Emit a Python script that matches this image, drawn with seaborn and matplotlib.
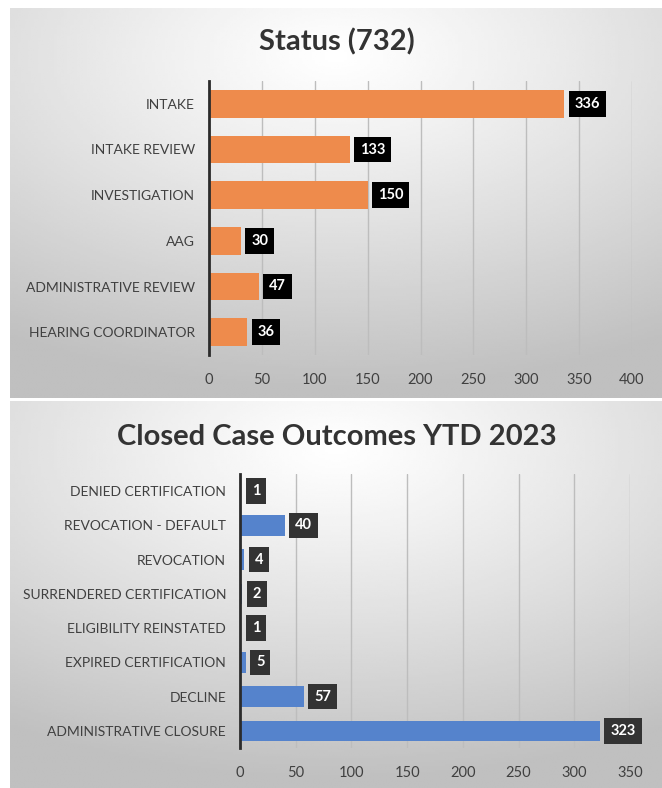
import numpy as np
import matplotlib
matplotlib.use('Agg')
import matplotlib.pyplot as plt
import seaborn as sns

sns.set_theme(style="white")
plt.rcParams['font.family'] = ['Lato', 'DejaVu Sans']

# Data
status_labels = ['INTAKE', 'INTAKE REVIEW', 'INVESTIGATION', 'AAG',
                 'ADMINISTRATIVE REVIEW', 'HEARING COORDINATOR']
status_counts = [336, 133, 150, 30, 47, 36]

outcome_labels = ['DENIED CERTIFICATION', 'REVOCATION - DEFAULT', 'REVOCATION',
                  'SURRENDERED CERTIFICATION', 'ELIGIBILITY REINSTATED',
                  'EXPIRED CERTIFICATION', 'DECLINE', 'ADMINISTRATIVE CLOSURE']
outcome_counts = [1, 40, 4, 2, 1, 5, 57, 323]

W, H = 662, 788
fig = plt.figure(figsize=(W / 100, H / 100), dpi=100)
fig.patch.set_facecolor('white')


def px_box(x0, y0, x1, y1):
    # pixel box (top-left origin) -> figure fraction rect
    return [x0 / W, 1 - y1 / H, (x1 - x0) / W, (y1 - y0) / H]


def gradient_bg(rect):
    bg = fig.add_axes(rect, zorder=0)
    yy, xx = np.mgrid[0:1:200j, 0:1:200j]
    r = np.sqrt(((xx - 0.5) * 1.0) ** 2 + ((yy - 0.12) * 1.1) ** 2)
    r = np.clip(r / 0.95, 0, 1)
    shade = 1.0 - 0.25 * r ** 1.1
    bg.imshow(shade, cmap='gray', vmin=0, vmax=1, aspect='auto',
              extent=[0, 1, 1, 0], interpolation='bilinear')
    bg.axis('off')


def bar_panel(rect, labels, counts, color, box_color, xmax):
    ax = fig.add_axes(rect, zorder=2)
    ax.patch.set_alpha(0)
    sns.barplot(x=counts, y=labels, orient='h', color=color, width=0.6,
                saturation=1, linewidth=0, edgecolor='none', ax=ax, zorder=3)
    ax.set_xlim(0, xmax)
    ax.set_xticks(np.arange(0, xmax + 1, 50))
    ax.grid(axis='x', color='#bdbdbd', linewidth=1, zorder=0)
    ax.set_axisbelow(True)
    for s in ['top', 'right', 'bottom']:
        ax.spines[s].set_visible(False)
    ax.spines['left'].set_color('#2b2b2b')
    ax.spines['left'].set_linewidth(2)
    ax.spines['left'].set_zorder(4)
    ax.tick_params(axis='y', length=0, pad=10, labelsize=10, labelcolor='#404040')
    ax.tick_params(axis='x', length=0, pad=13, labelsize=10.5, labelcolor='#404040')
    ax.set_xlabel('')
    ax.set_ylabel('')
    for i, v in enumerate(counts):
        ax.annotate(str(v), xy=(v, i), xytext=(7.5, 0), textcoords='offset points',
                    ha='left', va='center', color='white', fontsize=10.5,
                    fontweight='bold', zorder=5,
                    bbox=dict(boxstyle='square,pad=0.4', fc=box_color, ec='none'))
    return ax


# Top panel
gradient_bg(px_box(10, 8, 662, 398))
bar_panel(px_box(209, 81, 632, 355), status_labels, status_counts,
          '#ee8b4c', '#000000', 400)
fig.text(337 / W, 1 - 42 / H, 'Status (732)', ha='center', va='center',
         fontsize=21, fontweight='bold', color='#333333')

# Bottom panel
gradient_bg(px_box(10, 401, 662, 788))
bar_panel(px_box(240, 474, 630, 748), outcome_labels, outcome_counts,
          '#5583cc', '#333333', 350)
fig.text(337 / W, 1 - 437 / H, 'Closed Case Outcomes YTD 2023', ha='center',
         va='center', fontsize=21, fontweight='bold', color='#333333')

plt.savefig('out.png', dpi=100)
plt.close()
